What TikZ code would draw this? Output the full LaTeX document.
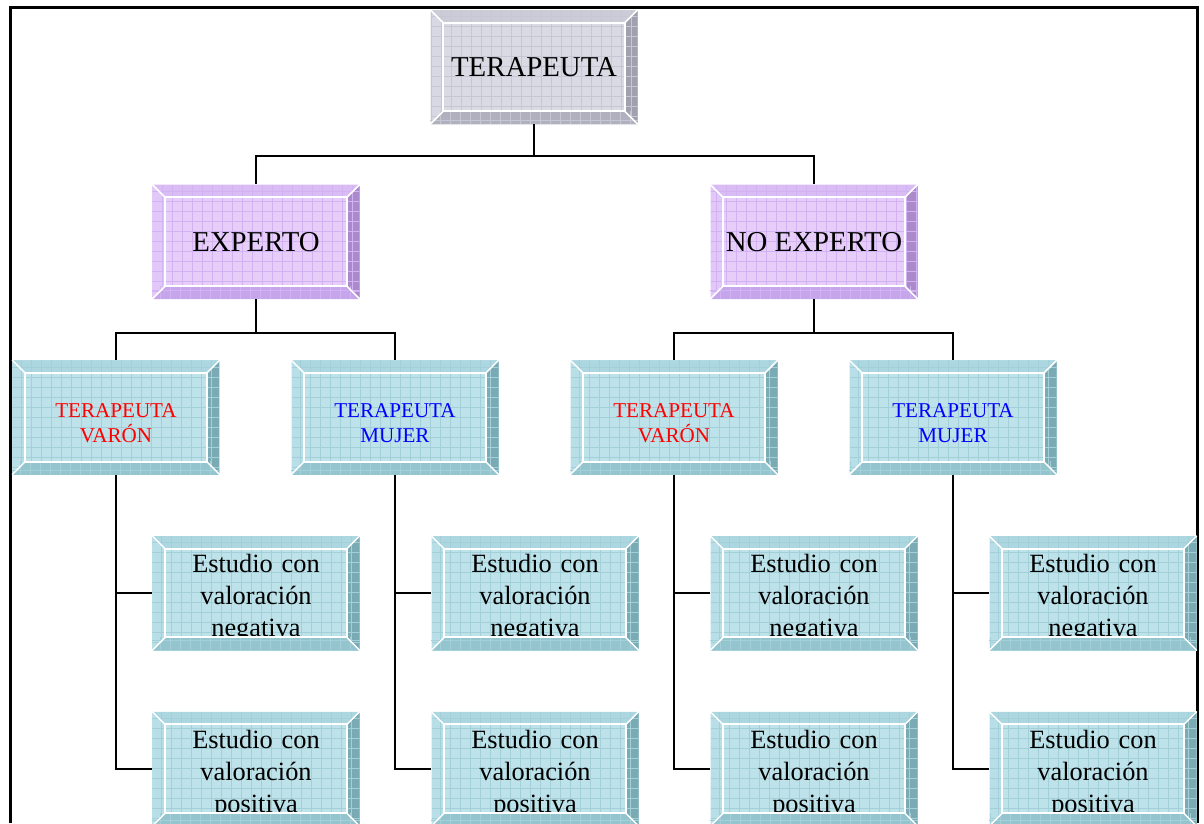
\documentclass[tikz,border=0pt]{standalone}
\usepackage{fontspec}
\setmainfont{Liberation Serif}
\usetikzlibrary{positioning}

\definecolor{greyface}{HTML}{DADAE4}
\definecolor{greygrid}{HTML}{C6C6D4}
\definecolor{greytop}{HTML}{CCCCD8}
\definecolor{greyleft}{HTML}{D8D8E4}
\definecolor{greyright}{HTML}{A0A0AE}
\definecolor{greybottom}{HTML}{B0B0BE}
\definecolor{lilacface}{HTML}{E6CEF8}
\definecolor{lilacgrid}{HTML}{D2B2F2}
\definecolor{lilactop}{HTML}{DABCF4}
\definecolor{lilacleft}{HTML}{E2C8F8}
\definecolor{lilacright}{HTML}{AA8ACB}
\definecolor{lilacbottom}{HTML}{C6A6EA}
\definecolor{aquaface}{HTML}{BEE2E9}
\definecolor{aquagrid}{HTML}{A2CFD8}
\definecolor{aquatop}{HTML}{ADD7E0}
\definecolor{aqualeft}{HTML}{B8DFE7}
\definecolor{aquaright}{HTML}{7AAAB3}
\definecolor{aquabottom}{HTML}{94C5CF}

\tikzset{
  tile/.style={fill=#1face, minimum width=41.4mm, minimum height=22.8mm, inner sep=0pt,
    path picture={
      \path (path picture bounding box.north west) coordinate (a)
            (path picture bounding box.north east) coordinate (b)
            (path picture bounding box.south east) coordinate (c)
            (path picture bounding box.south west) coordinate (d);
      \path ([shift={(2.6mm,-2.6mm)}]a) coordinate (a')
            ([shift={(-2.6mm,-2.6mm)}]b) coordinate (b')
            ([shift={(-2.6mm,2.6mm)}]c) coordinate (c')
            ([shift={(2.6mm,2.6mm)}]d) coordinate (d');
      \fill[#1top] (a) -- (b) -- (b') -- (a') -- cycle;
      \fill[#1left] (a) -- (a') -- (d') -- (d) -- cycle;
      \fill[#1right] (b) -- (c) -- (c') -- (b') -- cycle;
      \draw[#1grid, step=2mm, line width=0.3pt] (d) grid (b);
    }},
  big/.style={font=\fontsize{16.4}{19}\selectfont},
  gender/.style={font=\fontsize{12}{14.2}\selectfont, text width=38mm, align=center, text height=14.2pt},
  study/.style={font=\fontsize{15}{18.2}\selectfont, text width=38mm, align=center, text height=16pt},
  link/.style={line width=0.35mm},
}

\begin{document}
\begin{tikzpicture}[x=0.2mm, y=-0.2mm]
\useasboundingbox (0,0) rectangle (1204,823);
\draw[line width=0.6mm] (10,823) -- (10,7) -- (1197,7) -- (1197,823);

\node[tile=grey, big] (root) at (534,67) {TERAPEUTA};
\node[tile=lilac, big, below=12mm of root, xshift=-55.6mm] (exp) {EXPERTO};
\node[tile=lilac, big, below=12mm of root, xshift=56mm] (noexp) {NO EXPERTO};

\node[tile=aqua, gender, text=red, below=12.2mm of exp, xshift=-28mm] (expv) {TERAPEUTA\\VARÓN};
\node[tile=aqua, gender, text=blue, below=12.2mm of exp, xshift=27.8mm] (expm) {TERAPEUTA\\MUJER};
\node[tile=aqua, gender, text=red, below=12.2mm of noexp, xshift=-28mm] (noexpv) {TERAPEUTA\\VARÓN};
\node[tile=aqua, gender, text=blue, below=12.2mm of noexp, xshift=27.8mm] (noexpm) {TERAPEUTA\\MUJER};

\node[tile=aqua, study, below=12.2mm of expv, xshift=28mm] (expvneg) {Estudio con\\valoración\\negativa};
\node[tile=aqua, study, below=12.2mm of expvneg] (expvpos) {Estudio con\\valoración\\positiva};
\node[tile=aqua, study, below=12.2mm of expm, xshift=28mm] (expmneg) {Estudio con\\valoración\\negativa};
\node[tile=aqua, study, below=12.2mm of expmneg] (expmpos) {Estudio con\\valoración\\positiva};
\node[tile=aqua, study, below=12.2mm of noexpv, xshift=28mm] (noexpvneg) {Estudio con\\valoración\\negativa};
\node[tile=aqua, study, below=12.2mm of noexpvneg] (noexpvpos) {Estudio con\\valoración\\positiva};
\node[tile=aqua, study, below=12.2mm of noexpm, xshift=28mm] (noexpmneg) {Estudio con\\valoración\\negativa};
\node[tile=aqua, study, below=12.2mm of noexpmneg] (noexpmpos) {Estudio con\\valoración\\positiva};

% bottom bevel and white edges go over the text
\foreach \n/\col in {root/grey, exp/lilac, noexp/lilac, expv/aqua, expm/aqua, noexpv/aqua, noexpm/aqua,
    expvneg/aqua, expvpos/aqua, expmneg/aqua, expmpos/aqua, noexpvneg/aqua, noexpvpos/aqua, noexpmneg/aqua, noexpmpos/aqua}{
  \begin{scope}
    \clip (\n.south west) rectangle ([yshift=2.6mm]\n.south east);
    \fill[\col bottom] (\n.south west) -- (\n.south east) -- ([shift={(-2.6mm,2.6mm)}]\n.south east) -- ([shift={(2.6mm,2.6mm)}]\n.south west) -- cycle;
    \draw[\col grid, step=2mm, line width=0.3pt] (\n.south west) grid (\n.north east);
  \end{scope}
  \draw[white, line width=0.4mm] ([shift={(2.6mm,-2.6mm)}]\n.north west) rectangle ([shift={(-2.6mm,2.6mm)}]\n.south east);
  \draw[white, line width=0.3mm] (\n.north west) -- ++(2.6mm,-2.6mm) (\n.north east) -- ++(-2.6mm,-2.6mm)
    (\n.south east) -- ++(-2.6mm,2.6mm) (\n.south west) -- ++(2.6mm,2.6mm);
}

\draw[link] (root.south) -- ++(0,32) -| (exp);
\draw[link] (root.south) -- ++(0,32) -| (noexp);
\draw[link] (exp.south) -- ++(0,34) -| (expv);
\draw[link] (exp.south) -- ++(0,34) -| (expm);
\draw[link] (noexp.south) -- ++(0,34) -| (noexpv);
\draw[link] (noexp.south) -- ++(0,34) -| (noexpm);
\draw[link] (expv.south) |- (expvneg);
\draw[link] (expv.south) |- (expvpos);
\draw[link] (expm.south) |- (expmneg);
\draw[link] (expm.south) |- (expmpos);
\draw[link] (noexpv.south) |- (noexpvneg);
\draw[link] (noexpv.south) |- (noexpvpos);
\draw[link] (noexpm.south) |- (noexpmneg);
\draw[link] (noexpm.south) |- (noexpmpos);
\end{tikzpicture}
\end{document}
